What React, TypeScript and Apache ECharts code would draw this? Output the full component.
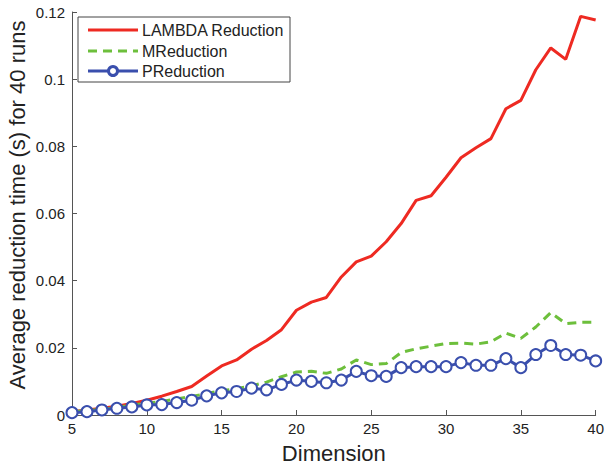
import React, { useEffect, useRef } from "react";
import * as echarts from "echarts";

const dimensions = [5,6,7,8,9,10,11,12,13,14,15,16,17,18,19,20,21,22,23,24,25,26,27,28,29,30,31,32,33,34,35,36,37,38,39,40];
const lambdaReduction = [0.001,0.0015,0.002,0.0026,0.0034,0.0044,0.0056,0.007,0.0085,0.0116,0.0146,0.0164,0.0196,0.0222,0.0254,0.0312,0.0336,0.035,0.0411,0.0456,0.0473,0.0516,0.057,0.0639,0.0653,0.0708,0.0766,0.0796,0.0823,0.0912,0.0937,0.1028,0.1093,0.1059,0.1187,0.1176];
const mReduction = [0.001,0.0013,0.0017,0.0022,0.003,0.0035,0.004,0.0048,0.0055,0.0064,0.0072,0.0078,0.0087,0.0098,0.0114,0.0128,0.013,0.0124,0.0137,0.0164,0.015,0.0153,0.0186,0.0197,0.0205,0.0213,0.0214,0.0211,0.0218,0.0244,0.0228,0.0262,0.0305,0.0272,0.0276,0.0276];
const pReduction = [0.0007,0.001,0.0015,0.002,0.0024,0.003,0.0031,0.0037,0.0044,0.0057,0.0066,0.007,0.008,0.0075,0.0091,0.0104,0.01,0.0096,0.0104,0.013,0.0117,0.0115,0.0141,0.0144,0.0144,0.0144,0.0156,0.0148,0.0148,0.0168,0.0141,0.018,0.0207,0.018,0.0178,0.0161];
const seriesNames = ["LAMBDA Reduction", "MReduction", "PReduction"];
const xTitle = "Dimension";
const yTitle = "Average reduction time (s) for 40 runs";

const FONT = "'Liberation Sans', Arial, Helvetica, sans-serif";
const RED = "#ee2a22";
const GREEN = "#6dbf3c";
const BLUE = "#3a4fad";

export default function App() {
  const ref = useRef<HTMLDivElement>(null);
  useEffect(() => {
    if (!ref.current) return;
    const chart = echarts.init(ref.current, null, { renderer: "svg" });
    const zip = (ys: number[]) => dimensions.map((x, i) => [x, ys[i]]);
    const axisColor = "#555";
    const legX = 78, legY = 17, legW = 212, legH = 65;
    const rowY = [30, 51, 71];
    const colors = [RED, GREEN, BLUE];
    const legendGraphics: any[] = [
      {
        type: "rect",
        shape: { x: legX, y: legY, width: legW, height: legH },
        style: { fill: "#fff", stroke: "#444", lineWidth: 1 },
        z: 100,
      },
    ];
    seriesNames.forEach((name, i) => {
      legendGraphics.push({
        type: "line",
        shape: { x1: 88, y1: rowY[i], x2: 138, y2: rowY[i] },
        style: {
          stroke: colors[i],
          lineWidth: 3,
          lineDash: i === 1 ? [9, 6] : null,
        },
        z: 101,
      });
      legendGraphics.push({
        type: "text",
        x: 142,
        y: rowY[i],
        style: {
          text: name,
          fontSize: 16,
          fontFamily: FONT,
          fill: "#222",
          align: "left",
          verticalAlign: "middle",
        },
        z: 101,
      });
    });
    legendGraphics.push({
      type: "circle",
      shape: { cx: 113, cy: rowY[2], r: 4.5 },
      style: { fill: "#fff", stroke: BLUE, lineWidth: 3 },
      z: 102,
    });

    chart.setOption({
      animation: false,
      backgroundColor: "#fff",
      textStyle: { fontFamily: FONT },
      grid: { left: 72, right: 11, top: 12, bottom: 55, containLabel: false },
      graphic: [
        {
          type: "text",
          x: 17,
          y: 205,
          rotation: Math.PI / 2,
          style: {
            text: yTitle,
            fontSize: 22,
            fontFamily: FONT,
            fill: "#222",
            align: "center",
            verticalAlign: "middle",
          },
        },
        ...legendGraphics,
      ],
      xAxis: {
        type: "value",
        min: 5,
        max: 40,
        interval: 5,
        name: xTitle,
        nameLocation: "middle",
        nameGap: 27,
        nameTextStyle: { fontSize: 22, color: "#222", fontFamily: FONT },
        axisLine: { onZero: false, lineStyle: { color: axisColor, width: 1 } },
        axisTick: { inside: true, length: 5, lineStyle: { color: axisColor } },
        axisLabel: { fontSize: 15, color: "#222", margin: 6, fontFamily: FONT },
        splitLine: { show: false },
      },
      yAxis: {
        type: "value",
        min: 0,
        max: 0.12,
        interval: 0.02,
        axisLine: { show: true, lineStyle: { color: axisColor, width: 1 } },
        axisTick: { show: true, inside: true, length: 5, lineStyle: { color: axisColor } },
        axisLabel: { fontSize: 15, color: "#222", margin: 7, fontFamily: FONT },
        splitLine: { show: false },
      },
      series: [
        {
          name: seriesNames[0],
          type: "line",
          data: zip(lambdaReduction),
          showSymbol: false,
          symbol: "none",
          lineStyle: { color: RED, width: 3 },
          itemStyle: { color: RED },
        },
        {
          name: seriesNames[1],
          type: "line",
          data: zip(mReduction),
          showSymbol: false,
          symbol: "none",
          lineStyle: { color: GREEN, width: 3, type: [9, 6] },
          itemStyle: { color: GREEN },
        },
        {
          name: seriesNames[2],
          type: "line",
          data: zip(pReduction),
          symbol: "emptyCircle",
          symbolSize: 11,
          lineStyle: { color: BLUE, width: 3 },
          itemStyle: { color: BLUE, borderWidth: 3, borderColor: BLUE },
        },
      ],
    });
    return () => chart.dispose();
  }, []);
  return <div ref={ref} style={{ width: 607, height: 470, position: "absolute", left: 0, top: 0 }} />;
}
